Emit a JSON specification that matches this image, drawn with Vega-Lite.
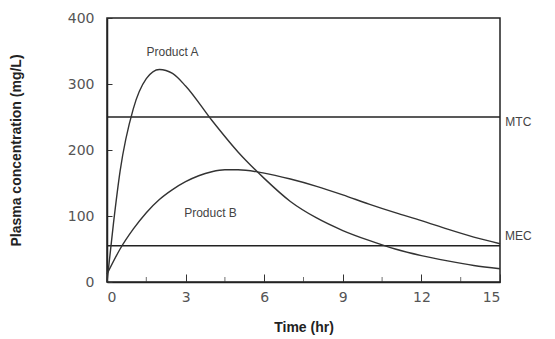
{
  "$schema": "https://vega.github.io/schema/vega-lite/v6.json",
  "width": 393,
  "height": 264,
  "autosize": "none",
  "padding": {"left": 107, "top": 18, "right": 55, "bottom": 57},
  "background": "white",
  "config": {
    "view": {"stroke": "#222", "strokeWidth": 1.5},
    "font": "Liberation Sans"
  },
  "datasets": {
    "curves": [
      {"t": 0, "conc": 0, "product": "A"},
      {"t": 0.25, "conc": 90, "product": "A"},
      {"t": 0.5, "conc": 168, "product": "A"},
      {"t": 1, "conc": 262, "product": "A"},
      {"t": 1.5, "conc": 308, "product": "A"},
      {"t": 2, "conc": 322, "product": "A"},
      {"t": 2.5, "conc": 316, "product": "A"},
      {"t": 3, "conc": 297, "product": "A"},
      {"t": 4, "conc": 245, "product": "A"},
      {"t": 5, "conc": 197, "product": "A"},
      {"t": 6, "conc": 157, "product": "A"},
      {"t": 7, "conc": 122, "product": "A"},
      {"t": 8, "conc": 97, "product": "A"},
      {"t": 9, "conc": 78, "product": "A"},
      {"t": 10, "conc": 63, "product": "A"},
      {"t": 11, "conc": 50, "product": "A"},
      {"t": 12, "conc": 40, "product": "A"},
      {"t": 13, "conc": 32, "product": "A"},
      {"t": 14, "conc": 25, "product": "A"},
      {"t": 15, "conc": 20, "product": "A"},
      {"t": 0, "conc": 12, "product": "B"},
      {"t": 0.5, "conc": 50, "product": "B"},
      {"t": 1, "conc": 80, "product": "B"},
      {"t": 1.5, "conc": 105, "product": "B"},
      {"t": 2, "conc": 125, "product": "B"},
      {"t": 2.5, "conc": 140, "product": "B"},
      {"t": 3, "conc": 152, "product": "B"},
      {"t": 3.5, "conc": 161, "product": "B"},
      {"t": 4, "conc": 167, "product": "B"},
      {"t": 4.5, "conc": 170, "product": "B"},
      {"t": 5, "conc": 170, "product": "B"},
      {"t": 6, "conc": 165, "product": "B"},
      {"t": 7, "conc": 156, "product": "B"},
      {"t": 8, "conc": 145, "product": "B"},
      {"t": 9, "conc": 132, "product": "B"},
      {"t": 10, "conc": 118, "product": "B"},
      {"t": 11, "conc": 105, "product": "B"},
      {"t": 12, "conc": 93, "product": "B"},
      {"t": 13, "conc": 80, "product": "B"},
      {"t": 14, "conc": 68, "product": "B"},
      {"t": 15, "conc": 58, "product": "B"}
    ],
    "levels": [
      {"level": "MTC", "conc": 250},
      {"level": "MEC", "conc": 55}
    ],
    "labels": [
      {"t": 2.5, "conc": 348, "label": "Product A", "align": "center"},
      {"t": 3.95, "conc": 104, "label": "Product B", "align": "center"},
      {"t": 15.7, "conc": 243, "label": "MTC", "align": "left"},
      {"t": 15.7, "conc": 70, "label": "MEC", "align": "left"}
    ],
    "minor": [
      {"t": 1.5}, {"t": 4.5}, {"t": 7.5}, {"t": 10.5}, {"t": 13.5}
    ]
  },
  "layer": [
    {
      "data": {"name": "minor"},
      "mark": {"type": "tick", "orient": "vertical", "color": "#333", "size": 5, "thickness": 1, "yOffset": -2.5},
      "encoding": {
        "x": {"field": "t", "type": "quantitative", "scale": {"domain": [0, 15]}},
        "y": {"datum": 0, "type": "quantitative", "scale": {"domain": [0, 400]}}
      }
    },
    {
      "data": {"name": "levels"},
      "mark": {"type": "rule", "color": "#222", "strokeWidth": 1.5},
      "encoding": {
        "y": {"field": "conc", "type": "quantitative"}
      }
    },
    {
      "data": {"name": "curves"},
      "mark": {"type": "line", "interpolate": "monotone", "color": "#333", "strokeWidth": 1.4},
      "encoding": {
        "x": {
          "field": "t", "type": "quantitative",
          "scale": {"domain": [0, 15], "nice": false},
          "axis": {
            "values": [0, 3, 6, 9, 12, 15],
            "title": "Time (hr)",
            "titleFont": "Liberation Sans", "titleFontSize": 14, "titleFontWeight": "bold", "titleColor": "#222", "titlePadding": 16,
            "labelFont": "DejaVu Sans", "labelFontSize": 14, "labelColor": "#555", "labelPadding": 16,
            "tickSize": -8, "tickColor": "#333", "domainColor": "#222", "domainWidth": 1.5, "grid": false
          }
        },
        "y": {
          "field": "conc", "type": "quantitative",
          "scale": {"domain": [0, 400], "nice": false},
          "axis": {
            "values": [0, 100, 200, 300, 400],
            "title": "Plasma concentration (mg/L)",
            "titleFont": "Liberation Sans", "titleFontSize": 14, "titleFontWeight": "bold", "titleColor": "#222", "titlePadding": 44,
            "labelFont": "DejaVu Sans", "labelFontSize": 14, "labelColor": "#555", "labelPadding": 18,
            "tickSize": -5, "tickColor": "#333", "domainColor": "#222", "domainWidth": 1.5, "grid": false
          }
        },
        "detail": {"field": "product", "type": "nominal"}
      }
    },
    {
      "data": {"name": "labels"},
      "mark": {"type": "text", "font": "Liberation Sans", "fontSize": 12, "color": "#444", "baseline": "middle"},
      "encoding": {
        "x": {"field": "t", "type": "quantitative"},
        "y": {"field": "conc", "type": "quantitative"},
        "text": {"field": "label"},
        "align": {"field": "align", "type": "nominal", "scale": null}
      }
    }
  ]
}
